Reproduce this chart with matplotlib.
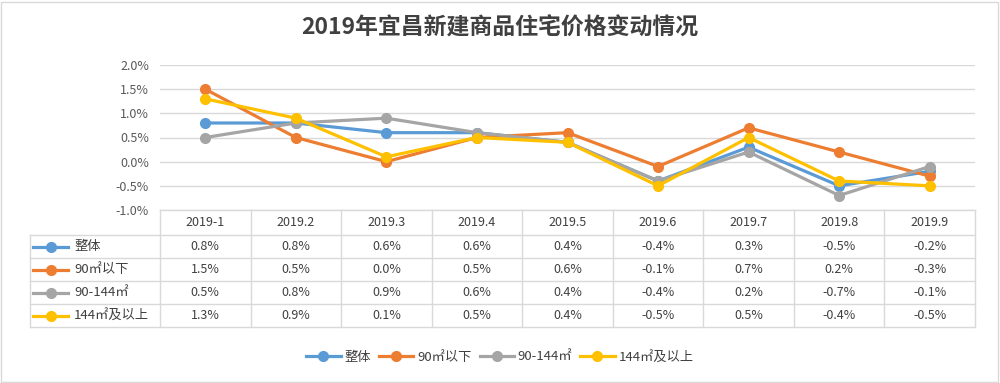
import matplotlib
matplotlib.use("Agg")
import matplotlib.pyplot as plt
from matplotlib.lines import Line2D
from matplotlib.patches import Rectangle

plt.rcParams['font.family'] = ['Noto Sans CJK SC', 'DejaVu Sans']

months = ["2019-1", "2019.2", "2019.3", "2019.4", "2019.5", "2019.6", "2019.7", "2019.8", "2019.9"]
overall = [0.8, 0.8, 0.6, 0.6, 0.4, -0.4, 0.3, -0.5, -0.2]
below90 = [1.5, 0.5, 0.0, 0.5, 0.6, -0.1, 0.7, 0.2, -0.3]
mid90_144 = [0.5, 0.8, 0.9, 0.6, 0.4, -0.4, 0.2, -0.7, -0.1]
above144 = [1.3, 0.9, 0.1, 0.5, 0.4, -0.5, 0.5, -0.4, -0.5]
names = ["整体", "90㎡以下", "90-144㎡", "144㎡及以上"]
colors = ["#5B9BD5", "#ED7D31", "#A5A5A5", "#FFC000"]
series = [overall, below90, mid90_144, above144]
title = "2019年宜昌新建商品住宅价格变动情况"

W, H = 1000, 383
fig = plt.figure(figsize=(W / 100, H / 100), dpi=100)

def fx(x):
    return x / W

def fy(y):
    return 1 - y / H

# outer frame
fig.add_artist(Rectangle((fx(1), fy(382)), fx(997), 380 / H, transform=fig.transFigure,
                         fill=False, ec="#D9D9D9", lw=1))

left, right, top, bottom = 160, 975, 65, 210
ax = fig.add_axes([fx(left), fy(bottom), fx(right - left), (bottom - top) / H])
n = len(months)
xs = list(range(n))
for vals, c in zip(series, colors):
    ax.plot(xs, [v / 100 for v in vals], color=c, lw=2.3, marker="o", ms=7, zorder=3)
ax.set_xlim(-0.5, n - 0.5)
ax.set_ylim(-0.01, 0.02)
ax.set_yticks([i * 0.005 for i in range(-2, 5)])
ax.set_yticklabels(["%.1f%%" % (i * 0.5) for i in range(-2, 5)], fontsize=9, color="#595959")
ax.set_xticks([])
ax.tick_params(axis="y", length=0, pad=8)
ax.grid(axis="y", color="#D9D9D9", lw=1)
ax.set_axisbelow(True)
for s in ax.spines.values():
    s.set_visible(False)

fig.text(0.5, fy(28), title, ha="center", va="center", fontsize=16.5, fontweight="bold", color="#404040")

# data table
line_c = "#D9D9D9"
col_w = (right - left) / n
row_y = [210, 235, 258, 281, 304, 327]
tab_left = 30

def hline(x0, x1, y):
    fig.add_artist(Line2D([fx(x0), fx(x1)], [fy(y), fy(y)], transform=fig.transFigure, color=line_c, lw=1))

def vline(x, y0, y1):
    fig.add_artist(Line2D([fx(x), fx(x)], [fy(y0), fy(y1)], transform=fig.transFigure, color=line_c, lw=1))

hline(left, right, row_y[0])
for y in row_y[1:]:
    hline(tab_left, right, y)
for i in range(n + 1):
    vline(left + i * col_w, row_y[0], row_y[-1])
vline(tab_left, row_y[1], row_y[-1])

for i, m in enumerate(months):
    cx = left + (i + 0.5) * col_w
    fig.text(fx(cx), fy((row_y[0] + row_y[1]) / 2), m, ha="center", va="center", fontsize=9, color="#404040")
for r, (vals, name, c) in enumerate(zip(series, names, colors)):
    cy = (row_y[r + 1] + row_y[r + 2]) / 2
    for i, v in enumerate(vals):
        cx = left + (i + 0.5) * col_w
        fig.text(fx(cx), fy(cy), "%.1f%%" % v, ha="center", va="center", fontsize=9, color="#404040")
    # legend key inside the table
    fig.add_artist(Line2D([fx(33), fx(50.5), fx(68)], [fy(cy)] * 3, transform=fig.transFigure,
                          color=c, lw=2.3, marker="o", markevery=[1], ms=7))
    fig.text(fx(74), fy(cy), name, ha="left", va="center", fontsize=9.5, color="#404040")

# legend
handles = [Line2D([], [], color=c, lw=2.3, marker="o", ms=7) for c in colors]
fig.legend(handles, names, loc="center", bbox_to_anchor=(0.5, fy(357)), ncol=4, frameon=False,
           fontsize=9.5, handlelength=2.6, columnspacing=0.6, handletextpad=0.3,
           labelcolor="#404040")

fig.savefig("out.png", dpi=100)
